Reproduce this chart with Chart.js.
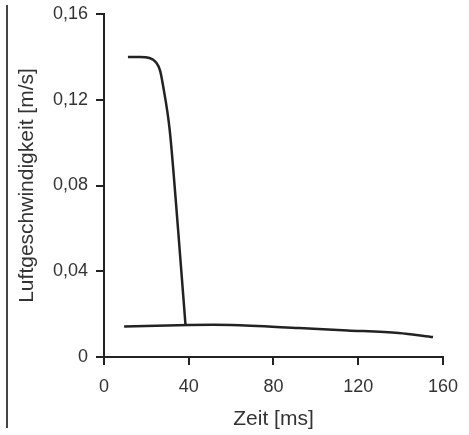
<!DOCTYPE html>
<html>
<head>
<meta charset="utf-8">
<script src="https://cdn.jsdelivr.net/npm/chart.js@4.4.0/dist/chart.umd.min.js"></script>
<style>
    body { margin: 0; background: #fff; }
    #wrap { position: relative; width: 469px; height: 435px; }
    #edge { position: absolute; left: 6px; top: 5px; width: 2px; height: 423px; background: #444; }
</style>
</head>
<body>
<div id="wrap">
    <div id="edge"></div>
    <canvas id="graphicSpeed" width="469" height="435"></canvas>
</div>
<script>
// Zeit [ms] / Luftgeschwindigkeit [m/s]
const fallTime = [11.3, 17, 21.5, 24.5, 26.5, 27.8, 31, 35, 38.5];
const fallSpeed = [0.140, 0.140, 0.1395, 0.1375, 0.1335, 0.127, 0.106, 0.059, 0.0145];

const baseTime = [9.5, 40, 60, 92, 115, 139, 155.3];
const baseSpeed = [0.0142, 0.0149, 0.0149, 0.0135, 0.0124, 0.0112, 0.0093];

const xTicks = [0, 40, 80, 120, 160];
const yTicks = [0, 0.04, 0.08, 0.12, 0.16];

const ink = '#222';
const fontFamily = '"Liberation Sans", Arial, sans-serif';

const toPoints = (xs, ys) => xs.map((x, i) => ({ x: x, y: ys[i] }));

const formatComma = (value) => {
    if (value === 0) return '0';
    return value.toFixed(2).replace('.', ',');
}

const axisGrid = {
    display: true,
    drawOnChartArea: false,
    drawTicks: true,
    tickLength: 8,
    color: ink,
    lineWidth: 2,
};

const graphicSpeed = new Chart(document.getElementById('graphicSpeed'), {
    type: 'scatter',
    data: {
        datasets: [
            {
                data: toPoints(fallTime, fallSpeed),
                showLine: true,
                borderColor: ink,
                borderWidth: 2.5,
                pointRadius: 0,
                cubicInterpolationMode: 'monotone',
            },
            {
                data: toPoints(baseTime, baseSpeed),
                showLine: true,
                borderColor: ink,
                borderWidth: 2.5,
                pointRadius: 0,
                tension: 0.3,
            },
        ],
    },
    options: {
        responsive: false,
        animation: false,
        layout: { padding: { left: 0, right: 24, top: 14, bottom: 0 } },
        plugins: {
            legend: { display: false },
            tooltip: { enabled: false },
        },
        scales: {
            x: {
                type: 'linear',
                min: xTicks[0],
                max: xTicks[xTicks.length - 1],
                afterBuildTicks: (scale) => { scale.ticks = xTicks.map(v => ({ value: v })); },
                afterFit: (scale) => { scale.height = 78; },
                border: { display: true, color: ink, width: 2 },
                grid: axisGrid,
                ticks: {
                    color: '#333',
                    padding: 11,
                    font: { family: fontFamily, size: 18 },
                },
                title: {
                    display: true,
                    text: 'Zeit [ms]',
                    color: '#333',
                    padding: { top: 0, bottom: 3 },
                    font: { family: fontFamily, size: 21 },
                },
            },
            y: {
                type: 'linear',
                min: yTicks[0],
                max: yTicks[yTicks.length - 1],
                afterBuildTicks: (scale) => { scale.ticks = yTicks.map(v => ({ value: v })); },
                afterFit: (scale) => {
                    scale.width = 104;
                    scale.paddingTop = 0;
                    scale.paddingBottom = 0;
                },
                border: { display: true, color: ink, width: 2 },
                grid: axisGrid,
                ticks: {
                    color: '#333',
                    padding: 8,
                    font: { family: fontFamily, size: 18 },
                    callback: (value) => formatComma(value),
                },
                title: {
                    display: true,
                    text: 'Luftgeschwindigkeit [m/s]',
                    color: '#333',
                    padding: { top: 15, bottom: 0 },
                    font: { family: fontFamily, size: 21 },
                },
            },
        },
    },
});
</script>
</body>
</html>
